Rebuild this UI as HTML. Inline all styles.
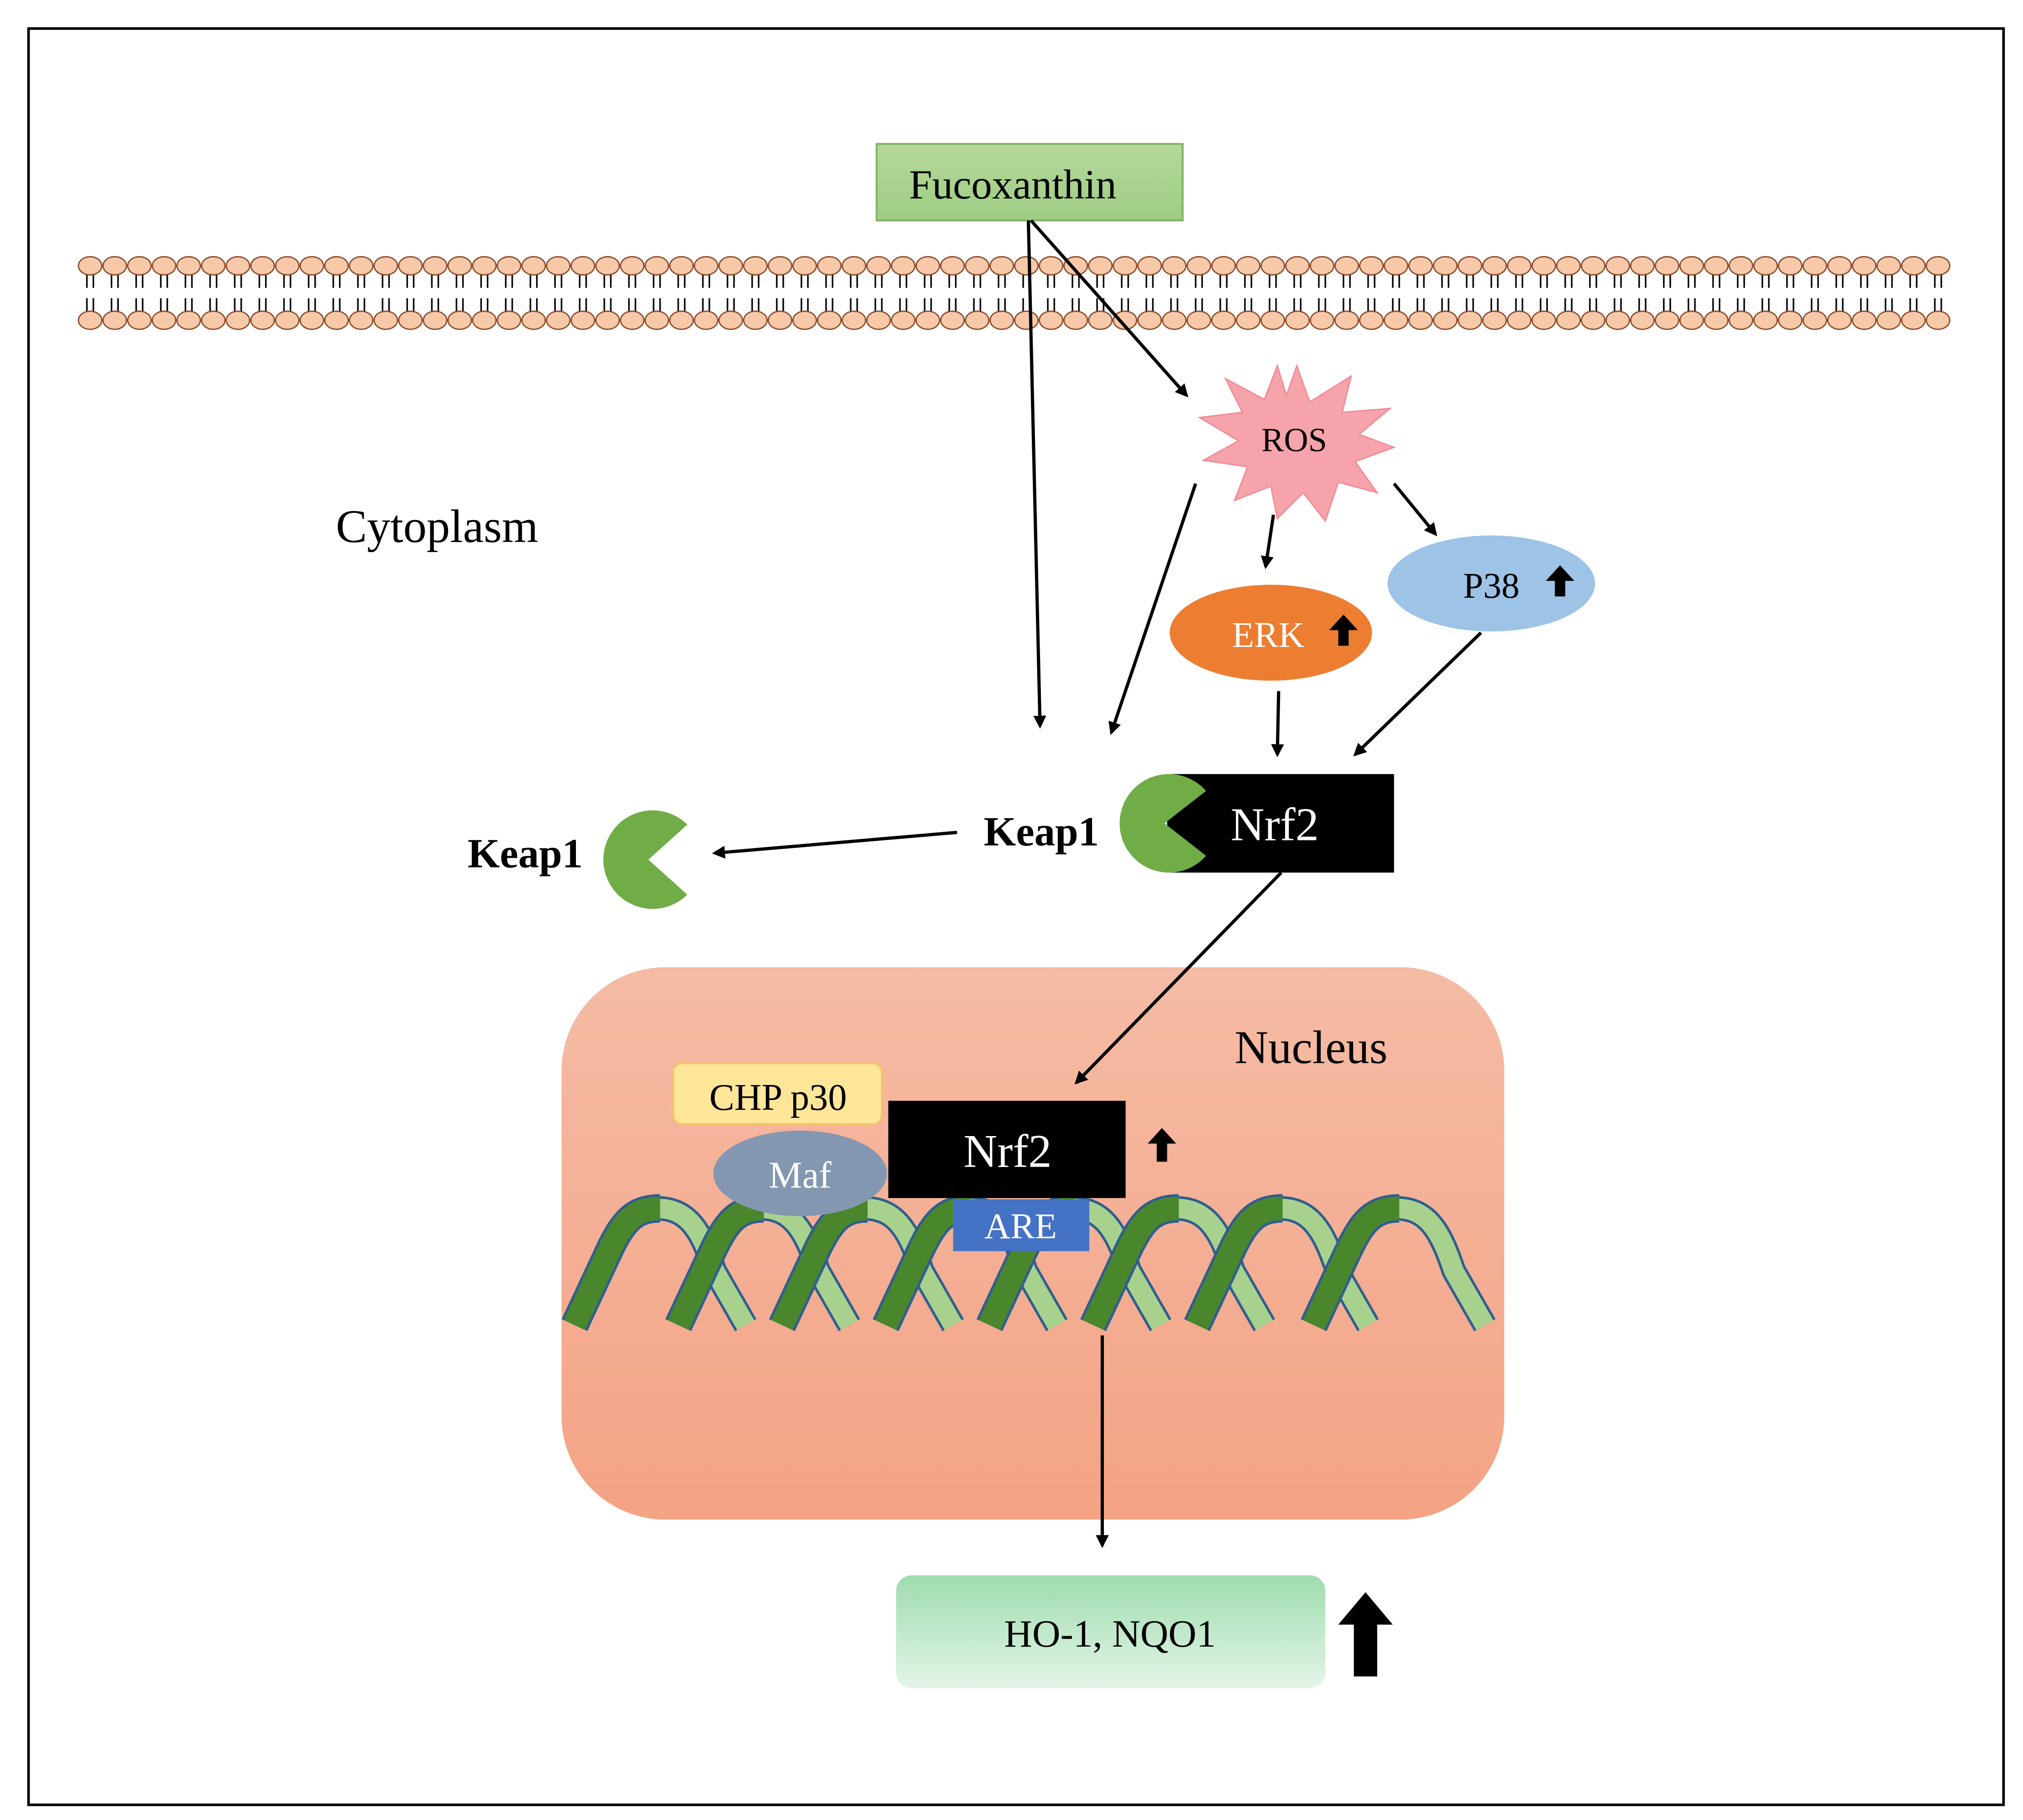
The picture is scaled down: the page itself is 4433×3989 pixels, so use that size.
<!DOCTYPE html>
<html><head><meta charset="utf-8"><style>html,body{margin:0;padding:0;background:#fff}svg{display:block}</style></head>
<body>
<svg width="4433" height="3989" viewBox="0 0 1560 1403.7" preserveAspectRatio="none" xmlns="http://www.w3.org/2000/svg" font-family="Liberation Serif, serif">
<defs>
<marker id="ah" markerWidth="10" markerHeight="10" refX="8" refY="5" orient="auto" markerUnits="userSpaceOnUse" viewBox="0 0 10 10"><path d="M0,0 L10,5 L0,10 z" fill="#000"/></marker>
<pattern id="mem" x="60" y="0" width="19" height="300" patternUnits="userSpaceOnUse">
<line x1="7" y1="211" x2="7" y2="222" stroke="#000" stroke-width="1.2"/><line x1="12" y1="211" x2="12" y2="222" stroke="#000" stroke-width="1.2"/>
<line x1="7" y1="230" x2="7" y2="241" stroke="#000" stroke-width="1.2"/><line x1="12" y1="230" x2="12" y2="241" stroke="#000" stroke-width="1.2"/>
<ellipse cx="9.5" cy="205" rx="9" ry="7" fill="#f8c9a9" stroke="#8a4a2a" stroke-width="1"/>
<ellipse cx="9.5" cy="247" rx="9" ry="7" fill="#f8c9a9" stroke="#8a4a2a" stroke-width="1"/>
</pattern>
<linearGradient id="nuc" x1="0" y1="0" x2="0" y2="1"><stop offset="0" stop-color="#f5bba5"/><stop offset="1" stop-color="#f4a384"/></linearGradient>
<linearGradient id="ho" x1="0" y1="0" x2="0" y2="1"><stop offset="0" stop-color="#9edcae"/><stop offset="1" stop-color="#e4f5e8"/></linearGradient>
<linearGradient id="fx" x1="0" y1="0" x2="0" y2="1"><stop offset="0" stop-color="#b5d99b"/><stop offset="1" stop-color="#9fcc83"/></linearGradient>
<path id="lt" d="M74,932 C98,932 108,950 118,980 L142,1022"/>
<path id="dk" d="M10,1022 L38,962 C48,942 56,932 76,932"/>
</defs>
<rect x="22" y="22" width="1523" height="1370" fill="none" stroke="#000" stroke-width="2"/>
<rect x="60" y="195" width="1444" height="62" fill="url(#mem)"/>
<rect x="676" y="111" width="236" height="59" fill="url(#fx)" stroke="#82b366" stroke-width="1.5"/>
<text x="781" y="153" font-size="32" text-anchor="middle">Fucoxanthin</text>
<rect x="433" y="746" width="727" height="426" rx="80" fill="url(#nuc)"/>
<g stroke="#000" stroke-width="2.5" fill="none" marker-end="url(#ah)">
<line x1="793" y1="170" x2="802" y2="560"/>
<line x1="795" y1="170" x2="915" y2="305"/>
<line x1="922" y1="373" x2="857" y2="565"/>
<line x1="982" y1="397" x2="976" y2="437"/>
<line x1="1075" y1="373" x2="1107" y2="412"/>
<line x1="986" y1="533" x2="985" y2="582"/>
<line x1="1142" y1="488" x2="1045" y2="582"/>
<line x1="738" y1="642" x2="551" y2="658"/>
<line x1="988" y1="673" x2="830" y2="835"/>
<line x1="850" y1="1030" x2="850" y2="1192"/>
</g>
<polygon points="1000,282 1010,310 1042,290 1035,318 1072,315 1048,335 1075,345 1045,356 1062,380 1032,372 1022,402 1005,380 985,400 980,375 952,386 962,360 928,355 955,340 925,322 958,318 945,292 975,308 985,282 992,305" fill="#f6a3ab" stroke="#f28a94" stroke-width="1"/>
<text x="998" y="348" font-size="26" text-anchor="middle">ROS</text>
<text x="337" y="418" font-size="36" text-anchor="middle">Cytoplasm</text>
<ellipse cx="980" cy="488" rx="78" ry="37" fill="#ed7d31"/>
<text x="978" y="499" font-size="28" fill="#fff" text-anchor="middle">ERK</text>
<path d="M1036,474 l-11,12 h7 v12 h8 v-12 h7 z" fill="#000"/>
<ellipse cx="1150" cy="450" rx="80" ry="37" fill="#9dc3e6"/>
<text x="1150" y="461" font-size="28" text-anchor="middle">P38</text>
<path d="M1203,436 l-11,12 h7 v12 h8 v-12 h7 z" fill="#000"/>
<rect x="900" y="597" width="175" height="76" fill="#000"/>
<text x="983" y="648" font-size="36" fill="#fff" text-anchor="middle">Nrf2</text>
<path d="M898,635 L930,610 A38,38 0 1,0 930,660 Z" fill="#70ad47"/>
<text x="803" y="652" font-size="32" font-weight="bold" text-anchor="middle">Keap1</text>
<path d="M500,663 L530,636 A38,38 0 1,0 530,690 Z" fill="#70ad47"/>
<text x="405" y="669" font-size="32" font-weight="bold" text-anchor="middle">Keap1</text>
<text x="1011" y="820" font-size="36" text-anchor="middle">Nucleus</text>
<g fill="none" stroke-linecap="butt" stroke-linejoin="round">
<g stroke="#2f5f8f" stroke-width="19">
<use href="#lt" x="433"/><use href="#lt" x="513"/><use href="#lt" x="593"/><use href="#lt" x="673"/><use href="#lt" x="753"/><use href="#lt" x="833"/><use href="#lt" x="913"/><use href="#lt" x="1003"/>
</g>
<g stroke="#a9d18e" stroke-width="15">
<use href="#lt" x="433"/><use href="#lt" x="513"/><use href="#lt" x="593"/><use href="#lt" x="673"/><use href="#lt" x="753"/><use href="#lt" x="833"/><use href="#lt" x="913"/><use href="#lt" x="1003"/>
</g>
<g stroke="#2f5f8f" stroke-width="22">
<use href="#dk" x="433"/><use href="#dk" x="513"/><use href="#dk" x="593"/><use href="#dk" x="673"/><use href="#dk" x="753"/><use href="#dk" x="833"/><use href="#dk" x="913"/><use href="#dk" x="1003"/>
</g>
<g stroke="#4a862c" stroke-width="18">
<use href="#dk" x="433"/><use href="#dk" x="513"/><use href="#dk" x="593"/><use href="#dk" x="673"/><use href="#dk" x="753"/><use href="#dk" x="833"/><use href="#dk" x="913"/><use href="#dk" x="1003"/>
</g>
</g>
<rect x="519" y="820" width="161" height="47" rx="7" fill="#ffe699" stroke="#f4c36b" stroke-width="1.5"/>
<text x="600" y="856" font-size="29" text-anchor="middle">CHP p30</text>
<ellipse cx="617" cy="905" rx="67" ry="33" fill="#8497b0"/>
<text x="617" y="916" font-size="29" fill="#fff" text-anchor="middle">Maf</text>
<rect x="685" y="849" width="183" height="75" fill="#000"/>
<text x="777" y="900" font-size="36" fill="#fff" text-anchor="middle">Nrf2</text>
<path d="M896,870 l-11,12 h7 v14 h8 v-14 h7 z" fill="#000"/>
<rect x="735" y="925" width="105" height="40" fill="#4472c4"/>
<text x="787" y="955" font-size="28" fill="#fff" text-anchor="middle">ARE</text>
<rect x="691" y="1215" width="331" height="87" rx="12" fill="url(#ho)"/>
<text x="856" y="1270" font-size="30" text-anchor="middle">HO-1, NQO1</text>
<path d="M1053,1228 l-21,25 h12 v40 h18 v-40 h12 z" fill="#000"/>
</svg>
</body></html>
